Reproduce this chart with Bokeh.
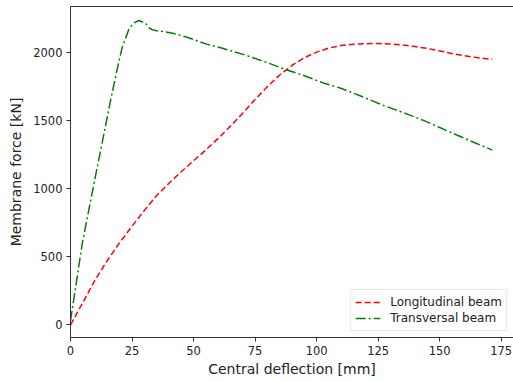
from bokeh.plotting import figure
from bokeh.models import LinearAxis, FixedTicker, Legend, LegendItem
from bokeh.embed import file_html
from bokeh.resources import INLINE

# Longitudinal beam (red dashed)
long_x = [0, 5, 10, 15, 20, 25, 30, 35, 40, 45, 50, 55, 60, 65, 70, 75, 80, 85, 90, 95,
          100, 105, 110, 115, 120, 125, 130, 135, 140, 145, 150, 155, 160, 165, 171.4]
long_y = [0, 165, 330, 475, 605, 725, 840, 950, 1040, 1125, 1205, 1285, 1370, 1460, 1555, 1655, 1750, 1835, 1905, 1962,
          2003, 2033, 2051, 2061, 2065, 2066, 2062, 2055, 2044, 2030, 2012, 1993, 1977, 1963, 1950]

# Transversal beam (green dash-dot)
trans_x = [0, 2, 4.75, 9.5, 13, 16.3, 19, 21, 23.7, 25.5, 27.8, 30.5, 32, 33.2, 35, 37.9, 42, 47.4,
           55.6, 61, 71.8, 80, 88, 95, 103, 109.8, 117.9, 127.4, 135, 143.7, 150, 157.2, 164, 171.4]
trans_y = [30, 268, 595, 1035, 1350, 1650, 1880, 2038, 2170, 2215, 2235, 2215, 2180, 2168, 2160, 2154, 2140, 2112,
           2060, 2035, 1977, 1925, 1872, 1830, 1775, 1738, 1681, 1610, 1560, 1500, 1450, 1393, 1340, 1284]

x_ticks = [0, 25, 50, 75, 100, 125, 150, 175]
y_ticks = [0, 500, 1000, 1500, 2000]

FONT = "DejaVu Sans"
AX = "#333333"
TXT = "#222222"

p = figure(width=513, height=381, x_range=(0, 180), y_range=(-92, 2338),
           output_backend="svg", toolbar_location=None,
           min_border_left=70, min_border_right=0, min_border_top=6, min_border_bottom=44)
p.outline_line_color = None
p.xgrid.visible = False
p.ygrid.visible = False

r1 = p.line(long_x, long_y, line_color="#ff0000", line_width=1.5, line_dash="6 3")
r2 = p.line(trans_x, trans_y, line_color="#008000", line_width=1.5, line_dash="10 3 2 3")

for ax in (p.xaxis[0], p.yaxis[0]):
    ax.axis_line_color = AX
    ax.axis_line_width = 1
    ax.major_tick_line_color = AX
    ax.major_tick_out = 4
    ax.major_tick_in = 0
    ax.minor_tick_line_color = None
    ax.major_label_text_font = FONT
    ax.major_label_text_font_size = "11.5px"
    ax.major_label_text_color = TXT
    ax.axis_label_text_font = FONT
    ax.axis_label_text_font_size = "14px"
    ax.axis_label_text_font_style = "normal"
    ax.axis_label_text_color = TXT
    ax.major_label_standoff = 4

p.xaxis.ticker = FixedTicker(ticks=x_ticks)
p.yaxis.ticker = FixedTicker(ticks=y_ticks)
p.xaxis.axis_label = "Central deflection [mm]"
p.yaxis.axis_label = "Membrane force [kN]"
p.xaxis.axis_label_standoff = 3
p.yaxis.axis_label_standoff = 6

top = LinearAxis(ticker=FixedTicker(ticks=[]), major_label_text_font_size="0px",
                 major_tick_out=0, major_tick_in=0, minor_tick_out=0, minor_tick_in=0,
                 major_label_standoff=0, axis_label_standoff=0, axis_line_color=AX)
p.add_layout(top, "above")

legend = Legend(items=[LegendItem(label="Longitudinal beam", renderers=[r1]),
                       LegendItem(label="Transversal beam", renderers=[r2])],
                location="bottom_right")
legend.margin = 6
legend.padding = 4
legend.spacing = 0
legend.glyph_width = 25
legend.glyph_height = 16
legend.label_height = 16
legend.label_standoff = 10
legend.label_text_font = FONT
legend.label_text_font_size = "12px"
legend.label_text_color = TXT
legend.border_line_color = "#cccccc"
legend.border_line_width = 1
legend.background_fill_alpha = 0.9
p.add_layout(legend)

open("out.html", "w").write(file_html(p, INLINE))
